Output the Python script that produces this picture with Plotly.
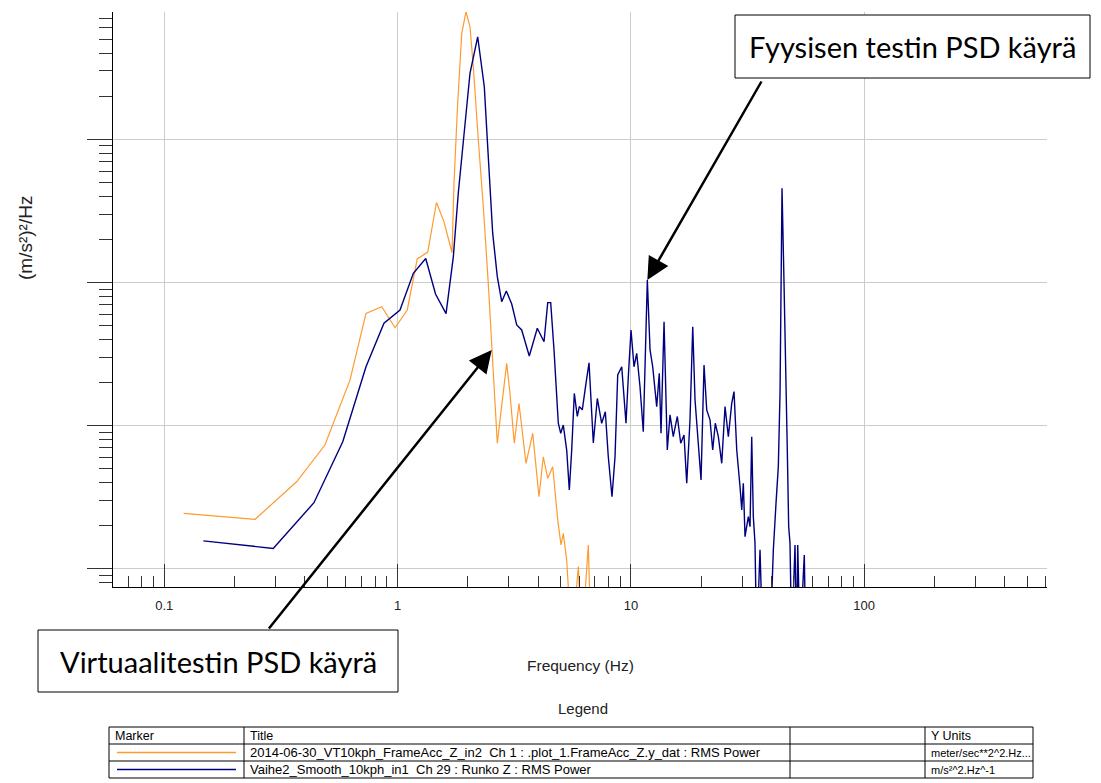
import numpy as np
import plotly.graph_objects as go

# Virtual test PSD: frequency (Hz) and power spectral density ((m/s²)²/Hz)
virt_freq = [0.121, 0.245, 0.369, 0.488, 0.625, 0.732, 0.855, 0.975, 1.10, 1.214,
             1.346, 1.468, 1.581, 1.711, 1.745, 1.803, 1.883, 1.964, 2.043, 2.111,
             2.218, 2.330, 2.447, 2.532, 2.572, 2.675, 2.822, 2.935, 3.032, 3.163,
             3.314, 3.551, 3.794, 4.037, 4.212, 4.400, 4.622, 4.856, 5.016, 5.131,
             5.306, 5.576, 5.952, 6.153, 6.568, 6.745]
virt_psd = [2.44e-4, 2.22e-4, 4.06e-4, 7.33e-4, 2.08e-3, 6.09e-3, 6.78e-3, 4.83e-3, 6.43e-3, 1.46e-2,
            1.63e-2, 3.62e-2, 2.65e-2, 1.62e-2, 4.95e-2, 0.160, 0.549, 0.778, 0.611, 0.321,
            0.0989, 0.0338, 9.87e-3, 3.38e-3, 2.20e-3, 7.54e-4, 1.59e-3, 2.73e-3, 1.68e-3, 7.54e-4,
            1.43e-3, 5.46e-4, 8.85e-4, 3.19e-4, 6.07e-4, 4.29e-4, 5.17e-4, 2.20e-4, 1.47e-4, 1.77e-4,
            1.15e-4, 3e-5, 1.04e-4, 3e-5, 1.47e-4, 3e-5]

# Physical test PSD
phys_freq = [0.147, 0.293, 0.438, 0.582, 0.732, 0.874, 1.024, 1.168, 1.320, 1.454,
             1.613, 1.733, 1.820, 1.912, 2.043, 2.204, 2.353, 2.424, 2.556, 2.675,
             2.794, 2.924, 3.084, 3.240, 3.403, 3.668, 3.970, 4.242, 4.400, 4.531,
             4.682, 4.884, 5.002, 5.131, 5.306, 5.445, 5.575, 5.720, 5.892, 6.010,
             6.189, 6.421, 6.614, 6.901, 7.178, 7.495, 7.768, 8.000, 8.298, 8.549,
             8.779, 9.133, 9.528, 9.747, 10.01, 10.31, 10.59, 10.94, 11.30, 11.76,
             12.08, 12.40, 12.90, 13.23, 13.46, 13.87, 14.32, 14.71, 15.19, 15.81,
             16.35, 16.89, 17.35, 17.92, 18.41, 18.83, 19.45, 19.98, 20.58, 21.13,
             21.83, 22.42, 23.00, 23.70, 24.51, 25.32, 26.16, 27.05, 27.67, 28.42,
             29.36, 29.86, 30.33, 30.84, 31.86, 32.40, 32.95, 33.47, 34.03, 34.61,
             35.76, 36.72, 39.48, 40.79, 41.88, 42.84, 43.57, 44.00, 44.44, 45.32,
             46.21, 46.81, 47.46, 48.07, 48.90, 50.51, 51.37, 51.88, 53.06, 55.36,
             56.15]
phys_psd = [1.57e-4, 1.39e-4, 2.90e-4, 7.73e-4, 2.58e-3, 5.19e-3, 6.43e-3, 1.16e-2, 1.47e-2, 8.31e-3,
            6.07e-3, 1.51e-2, 4.20e-2, 9.89e-2, 0.289, 0.520, 0.233, 0.0989, 0.0221, 0.01098,
            7.34e-3, 8.73e-3, 7.08e-3, 5.05e-3, 4.66e-3, 3.07e-3, 4.79e-3, 3.86e-3, 7.23e-3, 7.23e-3,
            3.38e-3, 1.04e-3, 8.85e-4, 1.01e-3, 6.76e-4, 3.56e-4, 6.76e-4, 1.68e-3, 1.16e-3, 1.36e-3,
            1.29e-3, 1.98e-3, 2.75e-3, 7.57e-4, 1.55e-3, 1.04e-3, 1.25e-3, 6.07e-4, 3.19e-4, 6.07e-4,
            2.26e-3, 2.58e-3, 1.04e-3, 2.20e-3, 4.66e-3, 2.58e-3, 3.20e-3, 1.87e-3, 9.08e-4, 1.041e-2,
            3.38e-3, 2.58e-3, 1.36e-3, 2.32e-3, 8.85e-4, 5.32e-3, 6.76e-4, 1.19e-3, 8.38e-4, 1.16e-3,
            7.54e-4, 8.61e-4, 3.96e-4, 1.10e-3, 4.91e-3, 1.51e-3, 7.94e-4, 4.18e-4, 2.65e-3, 1.29e-3,
            1.10e-3, 6.76e-4, 1.04e-3, 8.38e-4, 5.46e-4, 1.36e-3, 8.38e-4, 1.43e-3, 1.73e-3, 6.76e-4,
            3.75e-4, 2.58e-4, 3.96e-4, 1.68e-4, 2.32e-4, 1.97e-4, 8.38e-4, 2.32e-4, 1.52e-4, 3e-5,
            1.36e-4, 3e-5, 3e-5, 1.36e-4, 2.88e-4, 5.18e-4, 1.69e-3, 8.87e-3, 0.0455, 9.87e-3,
            2.58e-3, 6.76e-4, 1.97e-4, 1.52e-4, 3e-5, 1.47e-4, 3e-5, 1.47e-4, 3e-5, 1.25e-4,
            3e-5]

x_tick_vals = [0.1, 1, 10, 100]
x_tick_text = ["0.1", "1", "10", "100"]

legend_header = ["Marker", "Title", "", "Y Units"]
legend_titles = ["2014-06-30_VT10kph_FrameAcc_Z_in2  Ch 1 : .plot_1.FrameAcc_Z.y_dat : RMS Power",
                 "Vaihe2_Smooth_10kph_in1  Ch 29 : Runko Z : RMS Power"]
legend_units = ["meter/sec**2^2.Hz...", "m/s²^2.Hz^-1"]

ORANGE = "#ff9a2e"
NAVY = "#00007f"
GRID = "#cccccc"

W, H = 1101, 783
L, R, T, B = 113, 1047, 12, 587


def pxx(x):
    return (x - L) / (R - L)


def pxy(y):
    return (B - y) / (B - T)


def label(text, x, y, size, xanchor="center", family=None, angle=0, color="#222"):
    f = dict(size=size, color=color)
    if family:
        f["family"] = family
    fig.add_annotation(text=text, xref="paper", yref="paper", x=pxx(x), y=pxy(y),
                       xanchor=xanchor, yanchor="middle", textangle=angle,
                       showarrow=False, font=f)


fig = go.Figure()
fig.add_trace(go.Scatter(x=virt_freq, y=virt_psd, mode="lines",
                         line=dict(color=ORANGE, width=1.2), showlegend=False))
fig.add_trace(go.Scatter(x=phys_freq, y=phys_psd, mode="lines",
                         line=dict(color=NAVY, width=1.4), showlegend=False))

fig.update_layout(
    width=W, height=H,
    margin=dict(l=L, r=W - R, t=T, b=H - B, pad=0),
    paper_bgcolor="white", plot_bgcolor="white",
    font=dict(family="Liberation Sans, Arial, sans-serif", size=13, color="#222"),
    showlegend=False,
)
fig.update_xaxes(
    type="log", range=[-1.2199, 2.7835],
    tickvals=x_tick_vals, ticktext=x_tick_text,
    ticks="inside", ticklen=23, tickcolor="#333", tickwidth=1,
    showline=True, linecolor="black", linewidth=1,
    showgrid=True, gridcolor=GRID, gridwidth=1,
    minor=dict(ticks="inside", ticklen=11, tickcolor="#333", dtick="D1", showgrid=False),
    ticklabelstandoff=6, zeroline=False,
)
fig.update_yaxes(
    type="log", range=[-4.1264, -0.111], dtick=1,
    showticklabels=False,
    ticks="outside", ticklen=25, tickcolor="#333", tickwidth=1,
    showline=True, linecolor="black", linewidth=1,
    showgrid=True, gridcolor=GRID, gridwidth=1,
    minor=dict(ticks="outside", ticklen=13, tickcolor="#333", dtick="D1", showgrid=False),
    zeroline=False,
)

# axis titles
label("(m/s²)²/Hz", 25, 238, 19, angle=-90)
label("Frequency (Hz)", 580, 665, 15.5)
label("Legend", 583, 708, 15)

# legend table grid
shapes = []
tbl_l, tbl_r = 109, 1033
rows = [727, 744, 761, 778]
cols = [244, 790, 925]
for yy in rows:
    shapes.append(dict(type="line", xref="paper", yref="paper", x0=pxx(tbl_l), x1=pxx(tbl_r),
                       y0=pxy(yy), y1=pxy(yy), line=dict(color="black", width=1)))
for xx in [tbl_l] + cols + [tbl_r]:
    shapes.append(dict(type="line", xref="paper", yref="paper", x0=pxx(xx), x1=pxx(xx),
                       y0=pxy(rows[0]), y1=pxy(rows[-1]), line=dict(color="black", width=1)))
for i, c in enumerate([ORANGE, NAVY]):
    yy = (rows[i + 1] + rows[i + 2]) / 2
    shapes.append(dict(type="line", xref="paper", yref="paper", x0=pxx(117), x1=pxx(236),
                       y0=pxy(yy), y1=pxy(yy), line=dict(color=c, width=1.3)))

# callout boxes
boxes = [(735, 15, 1090, 78, "Fyysisen testin PSD käyrä"),
         (38, 630, 398, 692, "Virtuaalitestin PSD käyrä")]
for x0, y0, x1, y1, txt in boxes:
    shapes.append(dict(type="rect", xref="paper", yref="paper", x0=pxx(x0), x1=pxx(x1),
                       y0=pxy(y1), y1=pxy(y0), line=dict(color="black", width=1), fillcolor="white",
                       layer="above"))
fig.update_layout(shapes=shapes)

text_x = [113, 248, 794, 929]
for j, t in enumerate(legend_header):
    if t:
        label(t, text_x[j], (rows[0] + rows[1]) / 2, 12.5, xanchor="left", color="black")
for i in range(2):
    yy = (rows[i + 1] + rows[i + 2]) / 2
    label(legend_titles[i], 248, yy, 13, xanchor="left", color="black")
    label(legend_units[i], 929, yy, 11, xanchor="left", color="black")

for x0, y0, x1, y1, txt in boxes:
    label(txt, (x0 + x1) / 2, (y0 + y1) / 2, 29, family="Lato, Open Sans, sans-serif", color="black")

# arrows pointing at the two curves
fig.add_annotation(x=np.log10(phys_freq[59]), y=np.log10(phys_psd[59]), xref="x", yref="y",
                   text="", showarrow=True, ax=115, ay=-200, arrowhead=2, arrowsize=1.8,
                   arrowwidth=2.5, arrowcolor="black", standoff=0)
fig.add_annotation(x=np.log10(virt_freq[23]), y=np.log10(virt_psd[23]), xref="x", yref="y",
                   text="", showarrow=True, ax=-224, ay=280, arrowhead=2, arrowsize=1.8,
                   arrowwidth=2.5, arrowcolor="black", standoff=0)

fig.write_html("out.html")
